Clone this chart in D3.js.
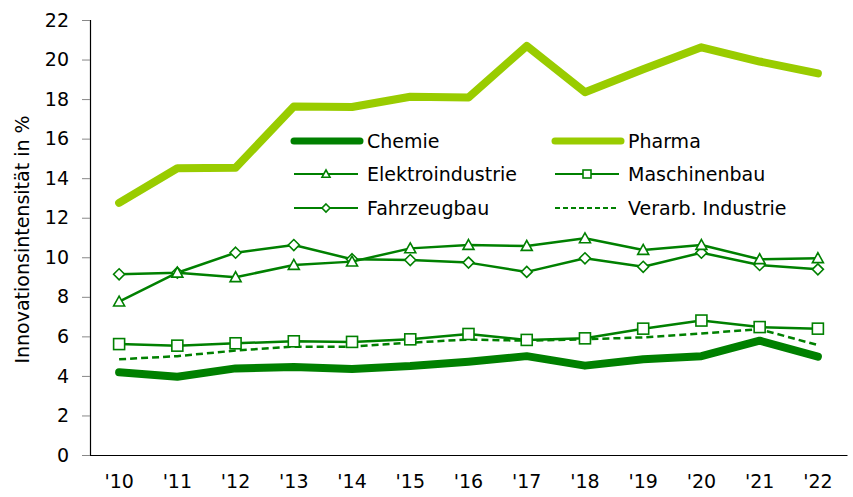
<!DOCTYPE html>
<html>
<head>
<meta charset="utf-8">
<script src="https://cdn.jsdelivr.net/npm/d3@7"></script>
<style>
  body { margin: 0; background: #fff; }
  svg { display: block; font-family: "DejaVu Sans", Verdana, sans-serif; }
</style>
</head>
<body>
<svg id="chart" width="853" height="497"></svg>
<script>
// years on the x axis
const years = ["'10", "'11", "'12", "'13", "'14", "'15", "'16", "'17", "'18", "'19", "'20", "'21", "'22"];
const yTicks = [0, 2, 4, 6, 8, 10, 12, 14, 16, 18, 20, 22];

// innovation intensity in % per sector
const chemie = [4.18, 3.96, 4.38, 4.45, 4.35, 4.5, 4.72, 5.0, 4.52, 4.84, 5.0, 5.78, 4.97];
const pharma = [12.75, 14.5, 14.53, 17.62, 17.6, 18.12, 18.08, 20.69, 18.35, 19.51, 20.62, 19.9, 19.3];
const elektro = [7.76, 9.22, 8.99, 9.61, 9.78, 10.45, 10.62, 10.57, 10.96, 10.37, 10.62, 9.9, 9.95];
const maschinenbau = [5.61, 5.53, 5.65, 5.75, 5.72, 5.85, 6.12, 5.82, 5.9, 6.39, 6.8, 6.47, 6.39];
const fahrzeugbau = [9.14, 9.22, 10.23, 10.62, 9.9, 9.86, 9.73, 9.26, 9.95, 9.52, 10.23, 9.61, 9.39];
const verarbInd = [4.84, 5.0, 5.28, 5.48, 5.48, 5.68, 5.84, 5.78, 5.85, 5.95, 6.15, 6.36, 5.56];

const dark = "#008000";
const light = "#99cc00";

const series = [
  { name: "Chemie", values: chemie, color: dark, width: 8, marker: null },
  { name: "Pharma", values: pharma, color: light, width: 8, marker: null },
  { name: "Elektroindustrie", values: elektro, color: dark, width: 2.5, marker: "triangle" },
  { name: "Maschinenbau", values: maschinenbau, color: dark, width: 2.5, marker: "square" },
  { name: "Fahrzeugbau", values: fahrzeugbau, color: dark, width: 2.5, marker: "diamond" },
  { name: "Verarb. Industrie", values: verarbInd, color: dark, width: 2.5, marker: null, dash: "7,4" }
];

const svg = d3.select("#chart");
const margin = { left: 90, right: 6, top: 20, bottom: 42 };
const W = 853, H = 497;
const fontSize = 19;

const x = d3.scaleBand().domain(years).range([margin.left, W - margin.right]);
const y = d3.scaleLinear().domain([0, 22]).range([H - margin.bottom, margin.top]);
const cx = d => x(d) + x.bandwidth() / 2;

// y axis
const yAxis = svg.append("g")
  .attr("transform", `translate(${margin.left},0)`)
  .call(d3.axisLeft(y).tickValues(yTicks).tickSize(8).tickPadding(13));
yAxis.select(".domain").attr("stroke", "#000").attr("stroke-width", 1.2);
yAxis.selectAll(".tick line").attr("stroke", "#888");
yAxis.selectAll("text").attr("font-size", fontSize).attr("fill", "#000")
  .attr("font-family", "DejaVu Sans, Verdana, sans-serif");

// x axis
const xAxis = svg.append("g")
  .attr("transform", `translate(0,${y(0)})`)
  .call(d3.axisBottom(x).tickSize(0).tickPadding(20).tickSizeOuter(0));
xAxis.select(".domain").attr("stroke", "#000").attr("stroke-width", 1.2);
xAxis.selectAll("text").attr("font-size", fontSize).attr("fill", "#000")
  .attr("font-family", "DejaVu Sans, Verdana, sans-serif");

svg.append("text")
  .attr("transform", `translate(29,${(y(0) + y(22)) / 2 + 2}) rotate(-90)`)
  .attr("text-anchor", "middle")
  .attr("font-size", fontSize)
  .text("Innovationsintensität in %");

const line = d3.line().x((d, i) => cx(years[i])).y(d => y(d));

function drawMarker(g, type, size, color) {
  const s = size / 2;
  if (type === "triangle") {
    g.append("path").attr("d", `M0,${-s}L${s},${s * 0.8}L${-s},${s * 0.8}Z`);
  } else if (type === "square") {
    g.append("rect").attr("x", -s).attr("y", -s).attr("width", size).attr("height", size);
  } else if (type === "diamond") {
    g.append("path").attr("d", `M0,${-s}L${s},0L0,${s}L${-s},0Z`);
  }
  g.selectAll("*").attr("fill", "#fff").attr("stroke", color).attr("stroke-width", 1.6);
}

// lines, drawn bottom-up so the thick ones sit under the markers
const order = ["Verarb. Industrie", "Chemie", "Pharma", "Maschinenbau", "Fahrzeugbau", "Elektroindustrie"];
order.forEach(n => {
  const s = series.find(d => d.name === n);
  svg.append("path")
    .datum(s.values)
    .attr("fill", "none")
    .attr("stroke", s.color)
    .attr("stroke-width", s.width)
    .attr("stroke-linejoin", "round")
    .attr("stroke-linecap", s.width > 4 ? "round" : "butt")
    .attr("stroke-dasharray", s.dash || null)
    .attr("d", line);
  if (s.marker) {
    s.values.forEach((v, i) => {
      const g = svg.append("g").attr("transform", `translate(${cx(years[i])},${y(v)})`);
      drawMarker(g, s.marker, 11, s.color);
    });
  }
});

// legend
const legend = svg.append("g");
const legX = [294, 555];
const legY = [141, 174, 208];
series.forEach((s, i) => {
  const lx = legX[i % 2], ly = legY[Math.floor(i / 2)];
  const g = legend.append("g").attr("transform", `translate(${lx},${ly})`);
  const len = s.width > 4 ? 66 : 64;
  g.append("line")
    .attr("x1", 0).attr("x2", len)
    .attr("stroke", s.color)
    .attr("stroke-width", s.width > 4 ? 7 : 2.2)
    .attr("stroke-linecap", s.width > 4 ? "round" : "butt")
    .attr("stroke-dasharray", s.dash ? "5,3" : null);
  if (s.marker) {
    const m = g.append("g").attr("transform", `translate(${len / 2},0)`);
    drawMarker(m, s.marker, 8, s.color);
  }
  g.append("text")
    .attr("x", 73)
    .attr("dy", "0.36em")
    .attr("font-size", fontSize)
    .text(s.name);
});
</script>
</body>
</html>
